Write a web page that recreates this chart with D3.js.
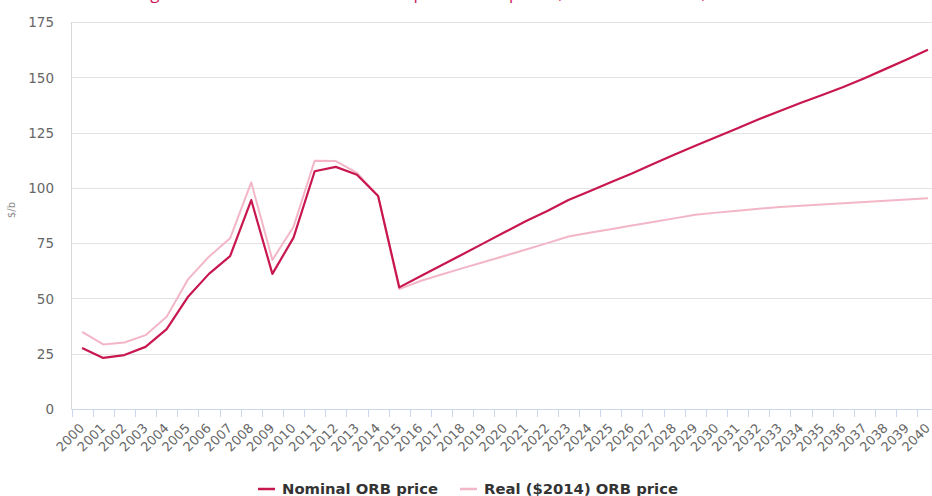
<!DOCTYPE html>
<html>
<head>
<meta charset="utf-8">
<script src="https://cdn.jsdelivr.net/npm/d3@7/dist/d3.min.js"></script>
<style>
  html, body { margin: 0; padding: 0; background: #fff; }
  svg { display: block; }
</style>
</head>
<body>
<svg id="chart" width="932" height="496"></svg>
<script>
// Years on the category axis
const years = d3.range(2000, 2041).map(String);

// OPEC Reference Basket price, $/b (nominal)
const nominal = [
  27.6, 23.1, 24.4, 28.1, 36.1, 50.6, 61.1, 69.1, 94.5, 61.1,
  77.5, 107.5, 109.5, 105.9, 96.3, 55.0, 60.0, 65.0, 70.0, 75.0,
  80.0, 85.0, 89.5, 94.5, 98.5, 102.5, 106.5, 110.8, 115.0, 119.0,
  123.0, 127.0, 131.0, 134.8, 138.5, 142.0, 145.6, 149.6, 153.8, 158.0,
  162.5
];

// OPEC Reference Basket price in 2014 dollars, $/b
const real = [
  34.9, 29.2, 30.1, 33.4, 41.7, 58.5, 68.9, 77.2, 102.5, 67.4,
  82.4, 112.3, 112.1, 106.8, 96.3, 54.2, 57.9, 60.8, 63.7, 66.5,
  69.3, 72.1, 75.0, 78.0, 79.7, 81.3, 83.0, 84.6, 86.2, 87.8,
  88.8, 89.7, 90.6, 91.3, 91.9, 92.5, 93.0, 93.6, 94.2, 94.7,
  95.3
];

const yTicks = [0, 25, 50, 75, 100, 125, 150, 175];

const seriesNames = ["Nominal ORB price", "Real ($2014) ORB price"];
const seriesColors = ["#c8174f", "#f2b6c7"];

const svg = d3.select("#chart");
const font = "'DejaVu Sans', Verdana, sans-serif";

const plotLeft = 71.5, plotRight = 938.5, plotTop = 22, plotBottom = 409;

const xBand = d3.scaleBand().domain(years).range([plotLeft, plotRight]);
const x = d3.scalePoint().domain(years).range([plotLeft, plotRight]).padding(0.5);
const y = d3.scaleLinear().domain([0, 175]).range([plotBottom, plotTop]);

// Title (runs above the top edge; only its lowest strokes show)
svg.append("text")
  .attr("x", 467).attr("y", -1)
  .attr("text-anchor", "middle")
  .attr("font-family", "'Open Sans', sans-serif")
  .attr("font-size", 17)
  .attr("fill", "#d4145a")
  .text("Figure 3.1: OPEC Reference Basket price assumptions, nominal and real, 2000–2040");

// Horizontal gridlines
svg.append("g")
  .selectAll("line")
  .data(yTicks)
  .join("line")
  .attr("x1", plotLeft).attr("x2", plotRight)
  .attr("y1", d => Math.round(y(d)) + 0.5).attr("y2", d => Math.round(y(d)) + 0.5)
  .attr("stroke", "#e3e3e3")
  .attr("stroke-width", 1);

// Left axis line
svg.append("line")
  .attr("x1", plotLeft).attr("x2", plotLeft)
  .attr("y1", plotTop).attr("y2", plotBottom)
  .attr("stroke", "#d8d8d8");

// Y axis labels
const yAxis = d3.axisLeft(y).tickValues(yTicks).tickSize(0).tickPadding(0);
const gy = svg.append("g").attr("transform", `translate(54,0)`).call(yAxis);
gy.select(".domain").remove();
gy.selectAll("text")
  .attr("font-family", font)
  .attr("font-size", 13.5)
  .attr("fill", "#666")
  .attr("dy", "0.35em");

// Y axis title
svg.append("text")
  .attr("transform", "translate(15,210) rotate(-90)")
  .attr("text-anchor", "middle")
  .attr("font-family", font)
  .attr("font-size", 10)
  .attr("fill", "#888")
  .text("$/b");

// X axis: baseline, tick marks between categories
const gx = svg.append("g");
gx.append("line")
  .attr("x1", plotLeft).attr("x2", plotRight)
  .attr("y1", plotBottom + 0.5).attr("y2", plotBottom + 0.5)
  .attr("stroke", "#ccd6eb");
gx.selectAll("line.tick")
  .data(years)
  .join("line")
  .attr("class", "tick")
  .attr("x1", d => Math.round(xBand(d)) + 0.5)
  .attr("x2", d => Math.round(xBand(d)) + 0.5)
  .attr("y1", plotBottom).attr("y2", plotBottom + 8)
  .attr("stroke", "#ccd6eb");

// Rotated year labels
gx.selectAll("text")
  .data(years)
  .join("text")
  .attr("transform", d => `translate(${x(d) + 3},${plotBottom + 20}) rotate(-45)`)
  .attr("text-anchor", "end")
  .attr("font-family", font)
  .attr("font-size", 13)
  .attr("fill", "#666")
  .text(d => d);

// Lines
const line = d3.line()
  .x((d, i) => x(years[i]))
  .y(d => y(d));

svg.append("path")
  .datum(real)
  .attr("d", line)
  .attr("fill", "none")
  .attr("stroke", seriesColors[1])
  .attr("stroke-width", 2)
  .attr("stroke-linejoin", "round");

svg.append("path")
  .datum(nominal)
  .attr("d", line)
  .attr("fill", "none")
  .attr("stroke", seriesColors[0])
  .attr("stroke-width", 2.2)
  .attr("stroke-linejoin", "round");

// Legend
const legendX = [258, 460];
const lg = svg.append("g");
seriesNames.forEach((name, i) => {
  lg.append("line")
    .attr("x1", legendX[i]).attr("x2", legendX[i] + 17)
    .attr("y1", 489).attr("y2", 489)
    .attr("stroke", seriesColors[i])
    .attr("stroke-width", 2.5);
  lg.append("text")
    .attr("x", legendX[i] + 24).attr("y", 494)
    .attr("font-family", font)
    .attr("font-size", 14.8)
    .attr("font-weight", "bold")
    .attr("fill", "#333")
    .text(name);
});
</script>
</body>
</html>
